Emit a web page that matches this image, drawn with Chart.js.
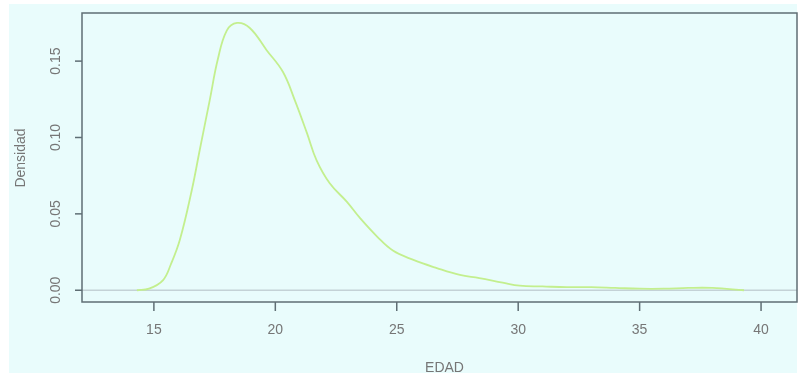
<!DOCTYPE html>
<html>
<head>
<meta charset="utf-8">
<script src="https://cdn.jsdelivr.net/npm/chart.js@4.4.1/dist/chart.umd.min.js"></script>
<style>
  html, body { margin: 0; padding: 0; background: #ffffff; }
  #wrap { width: 801px; height: 375px; }
</style>
</head>
<body>
<div id="wrap"><canvas id="densityChart" width="801" height="375"></canvas></div>
<script>
// Estimated density of EDAD
const edad = [14.3, 14.8, 15.37, 15.7, 16.07, 16.56, 16.89, 17.3, 17.63, 18.0, 18.42, 18.95,
    19.65, 20.31, 20.8, 21.3, 21.7, 22.24, 22.94, 23.5, 24.2, 24.84, 25.66, 26.65, 27.6,
    28.4, 29.36, 30.06, 31, 32, 33, 34, 35, 36, 37, 38, 39.3];
const densidad = [0, 0.001, 0.0065, 0.017, 0.033, 0.0655, 0.092, 0.1245, 0.151, 0.170, 0.175, 0.1717,
    0.157, 0.143, 0.1245, 0.103, 0.085, 0.070, 0.058, 0.047, 0.035, 0.026, 0.020, 0.0145, 0.010,
    0.008, 0.005, 0.003, 0.0025, 0.002, 0.002, 0.0015, 0.001, 0.001, 0.0015, 0.0015, 0.0];

const xTicks = [15, 20, 25, 30, 35, 40];
const yTicks = [0.00, 0.05, 0.10, 0.15];
const yTickLabels = ['0.00', '0.05', '0.10', '0.15'];

const axisColor = '#5f6e74';
const textColor = '#767676';
const font = '14px "Liberation Sans", Arial, sans-serif';

// draws background, box, ticks, labels and the zero line in R base-graphics style
const baseAxes = {
    id: 'baseAxes',
    beforeDraw(chart) {
        const ctx = chart.ctx;
        ctx.save();
        ctx.fillStyle = '#ffffff';
        ctx.fillRect(0, 0, chart.width, chart.height);
        ctx.fillStyle = '#e9fcfc';
        ctx.fillRect(9, 4, 788, 369);
        ctx.restore();
    },
    beforeDatasetsDraw(chart) {
        const ctx = chart.ctx;
        const a = chart.chartArea;
        const y0 = chart.scales.y.getPixelForValue(0);
        ctx.save();
        ctx.strokeStyle = '#c4d2d6';
        ctx.lineWidth = 1.5;
        ctx.beginPath();
        ctx.moveTo(a.left, y0);
        ctx.lineTo(a.right, y0);
        ctx.stroke();
        ctx.restore();
    },
    afterDraw(chart) {
        const ctx = chart.ctx;
        const a = chart.chartArea;
        const xs = chart.scales.x, ys = chart.scales.y;
        ctx.save();
        ctx.strokeStyle = axisColor;
        ctx.lineWidth = 1.5;
        ctx.strokeRect(a.left, a.top, a.right - a.left, a.bottom - a.top);

        ctx.fillStyle = textColor;
        ctx.font = font;
        ctx.textAlign = 'center';
        ctx.textBaseline = 'middle';

        xTicks.forEach(v => {
            const px = xs.getPixelForValue(v);
            ctx.beginPath();
            ctx.moveTo(px, a.bottom);
            ctx.lineTo(px, a.bottom + 9);
            ctx.stroke();
            ctx.fillText(String(v), px, a.bottom + 28);
        });

        yTicks.forEach((v, i) => {
            const py = ys.getPixelForValue(v);
            ctx.beginPath();
            ctx.moveTo(a.left, py);
            ctx.lineTo(a.left - 7, py);
            ctx.stroke();
            ctx.save();
            ctx.translate(a.left - 26, py);
            ctx.rotate(-Math.PI / 2);
            ctx.fillText(yTickLabels[i], 0, 0);
            ctx.restore();
        });

        ctx.fillText('EDAD', (a.left + a.right) / 2 + 5, a.bottom + 66);
        ctx.save();
        ctx.translate(21, 158);
        ctx.rotate(-Math.PI / 2);
        ctx.fillText('Densidad', 0, 0);
        ctx.restore();
        ctx.restore();
    }
};

new Chart(document.getElementById('densityChart').getContext('2d'), {
    type: 'scatter',
    data: {
        datasets: [{
            data: edad.map((x, i) => ({ x: x, y: densidad[i] })),
            showLine: true,
            borderColor: '#c3ef8e',
            borderWidth: 1.8,
            pointRadius: 0,
            tension: 0.4
        }]
    },
    options: {
        responsive: false,
        animation: false,
        layout: { padding: { left: 82, right: 4, top: 13, bottom: 73 } },
        plugins: { legend: { display: false }, tooltip: { enabled: false } },
        scales: {
            x: { type: 'linear', min: 12.04, max: 41.48, display: false },
            y: { type: 'linear', min: -0.0077, max: 0.1815, display: false }
        }
    },
    plugins: [baseAxes]
});
</script>
</body>
</html>
